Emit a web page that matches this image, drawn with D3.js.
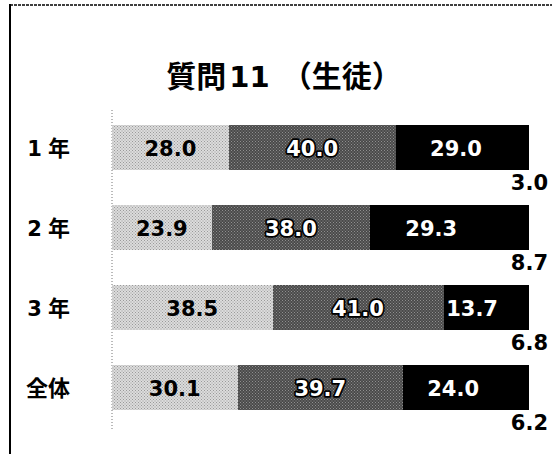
<!DOCTYPE html>
<html><head><meta charset="utf-8">
<script src="https://cdn.jsdelivr.net/npm/d3@7"></script>
<style>html,body{margin:0;padding:0;background:#fff;}svg{display:block;}</style>
</head><body>
<script>
const titleParts = ["質問", "11", "（生徒）"];
const categories = ["1年", "2年", "3年", "全体"];
const seriesA = [28.0, 23.9, 38.5, 30.1];
const seriesB = [40.0, 38.0, 41.0, 39.7];
const seriesC = [29.0, 29.3, 13.7, 24.0];
const seriesD = [3.0, 8.7, 6.8, 6.2];
const seriesNames = ["A", "B", "C", "D"];

const W = 552, H = 454;
const svg = d3.select("body").append("svg").attr("width", W).attr("height", H);

const defs = svg.append("defs");
function dotPattern(id, bg, dot, size) {
  const p = defs.append("pattern").attr("id", id).attr("patternUnits", "userSpaceOnUse")
    .attr("width", size).attr("height", size);
  p.append("rect").attr("width", size).attr("height", size).attr("fill", bg);
  p.append("rect").attr("x", 0).attr("y", 0).attr("width", 1).attr("height", 1).attr("fill", dot);
  p.append("rect").attr("x", size/2).attr("y", size/2).attr("width", 1).attr("height", 1).attr("fill", dot);
}
dotPattern("pA", "#dcdcdc", "#9a9a9a", 3);
dotPattern("pB", "#4a4a4a", "#8f8f8f", 3);

const colors = ["url(#pA)", "url(#pB)", "#000", "#000"];

// frame
svg.append("line").attr("x1", 10).attr("x2", 10).attr("y1", 4).attr("y2", H)
  .attr("stroke", "#000").attr("stroke-width", 2);
svg.append("line").attr("x1", 10).attr("x2", W).attr("y1", 5).attr("y2", 5)
  .attr("stroke", "#000").attr("stroke-width", 1.5).attr("stroke-dasharray", "3,1");

const cjk = "'Noto Sans CJK JP'";
const font = "'DejaVu Sans', Verdana, sans-serif";

const tt = svg.append("text").attr("x", 284).attr("y", 87).attr("text-anchor", "middle")
  .style("font-family", cjk).style("font-weight", 700).style("font-size", "30px");
tt.append("tspan").text(titleParts[0]);
tt.append("tspan").attr("dx", 3).style("font-family", font).style("font-size", "29px").text(titleParts[1]);
tt.append("tspan").attr("dx", 12).text(titleParts[2]);

const x = d3.scaleLinear().domain([0, 100]).range([112, 529]);
const y = d3.scaleBand().domain(categories).range([125, 445]).padding(0);
const barH = 45;

const data = categories.map((c, i) => ({cat: c, A: seriesA[i], B: seriesB[i], C: seriesC[i], D: seriesD[i]}));
const stack = d3.stack().keys(seriesNames)(data);

svg.append("line").attr("x1", x(0)).attr("x2", x(0)).attr("y1", 110).attr("y2", 430)
  .attr("stroke", "#777").attr("stroke-width", 1).attr("stroke-dasharray", "1,2");

stack.forEach((layer, k) => {
  svg.append("g").selectAll("rect").data(layer).join("rect")
    .attr("x", d => x(d[0])).attr("y", d => y(d.data.cat))
    .attr("width", d => x(d[1]) - x(d[0]) + (k === 2 ? 1 : 0)).attr("height", barH)
    .attr("shape-rendering", "crispEdges")
    .attr("fill", colors[k]);
});

stack.slice(0, 3).forEach((layer, k) => {
  const t = svg.append("g").selectAll("text").data(layer).join("text")
    .attr("x", d => (x(d[0]) + x(d[1])) / 2)
    .attr("y", d => y(d.data.cat) + barH / 2 + 1)
    .attr("text-anchor", "middle").attr("dominant-baseline", "central")
    .style("font-family", font).style("font-weight", "bold").style("font-size", "21px")
    .text(d => (d[1] - d[0]).toFixed(1));
  if (k === 0) t.attr("fill", "#000");
  if (k === 1) t.attr("fill", "#fff").attr("stroke", "#000").attr("stroke-width", 3.5).attr("paint-order", "stroke").attr("stroke-linejoin", "round");
  if (k === 2) t.attr("fill", "#fff");
});
svg.append("g").selectAll("text").data(stack[3]).join("text")
  .attr("x", 548).attr("y", d => y(d.data.cat) + barH + 13)
  .attr("text-anchor", "end").attr("dominant-baseline", "central")
  .style("font-family", font).style("font-weight", "bold").style("font-size", "21px")
  .text(d => (d[1] - d[0]).toFixed(1));

const cl = svg.append("g").selectAll("text").data(categories).join("text")
  .attr("x", 70).attr("y", d => y(d) + barH / 2 + 8)
  .attr("text-anchor", "end")
  .style("font-family", cjk).style("font-weight", 700).style("font-size", "22px");
cl.each(function(d) {
  const s = d3.select(this);
  if (/^[0-9]/.test(d)) {
    s.append("tspan").style("font-family", font).style("font-size", "21px").text(d[0]);
    s.append("tspan").attr("dx", 6).text(d.slice(1));
  } else {
    s.text(d);
  }
});
</script>
</body></html>
